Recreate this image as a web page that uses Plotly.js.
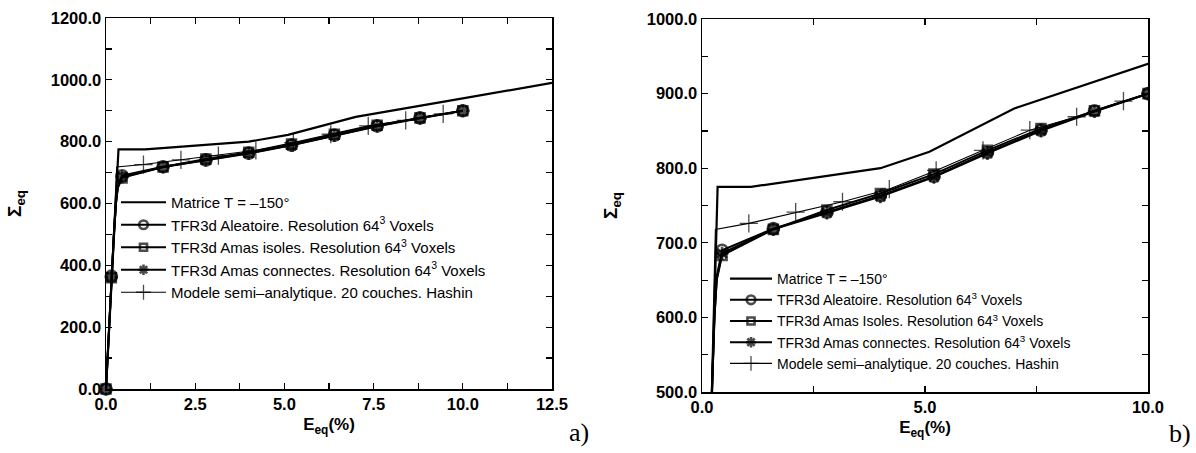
<!DOCTYPE html>
<html>
<head>
<meta charset="utf-8">
<script src="https://cdn.plot.ly/plotly-3.0.1.min.js"></script>
<style>html,body{margin:0;padding:0;background:#fff;}</style>
</head>
<body>
<div id="chart" style="width:1196px;height:453px;"></div>
<script>
// ---- data ----
const matriceE = [0, 0.35, 1.1, 4.0, 5.1, 7.0, 10.0, 12.5];
const matriceS = [0, 775, 775, 800, 822, 880, 940, 990];

const tfrE        = [0, 0.15, 0.22, 0.28, 0.33, 0.45, 1.6, 2.8, 4.0, 5.2, 6.4, 7.6, 8.8, 10.0];
const aleatoireS  = [0, 365, 500, 605, 655, 690, 719, 741, 763, 789, 821, 851, 877, 900];
const isolesS     = [0, 360, 495, 600, 650, 683, 718, 744, 766, 792, 824, 853, 877, 900];
const connectesS  = [0, 362, 497, 602, 652, 686, 718, 740, 762, 788, 820, 850, 876, 900];
const tfrMarked   = [1, 1, 0, 0, 0, 1, 1, 1, 1, 1, 1, 1, 1, 1];

const hashinE = [0, 0.3, 1.05, 2.1, 3.15, 4.2, 5.25, 6.3, 7.35, 8.4, 9.45];
const hashinS = [0, 718, 726, 741, 755, 772, 797, 824, 851, 869, 890];
const hashinMarked = [0, 0, 1, 1, 1, 1, 1, 1, 1, 1, 1];

const names = [
  'Matrice T = \u2013150\u00b0',
  'TFR3d Aleatoire. Resolution 64<sup>3</sup> Voxels',
  'TFR3d Amas isoles. Resolution 64<sup>3</sup> Voxels',
  'TFR3d Amas connectes. Resolution 64<sup>3</sup> Voxels',
  'Modele semi\u2013analytique. 20 couches. Hashin'
];
const namesB = names.slice();
namesB[2] = 'TFR3d Amas Isoles. Resolution 64<sup>3</sup> Voxels';

const leftXTicks = [0, 2.5, 5, 7.5, 10, 12.5];
const rightXTicks = [0, 5, 10];

// ---- traces ----
const traces = [];
function addSet(xa, ya, leg, clip, nm) {
  traces.push({x: matriceE, y: matriceS, xaxis: xa, yaxis: ya, legend: leg, name: nm[0],
    mode: 'lines', line: {color: '#000', width: 2.2}, cliponaxis: clip});
  const sets = [
    [aleatoireS, 'circle-open', 11],
    [isolesS, 'square-open', 9],
    [connectesS, 'asterisk-open', 11]
  ];
  sets.forEach((s, i) => {
    traces.push({x: tfrE, y: s[0], xaxis: xa, yaxis: ya, legend: leg, name: nm[i + 1],
      mode: 'lines+markers', cliponaxis: clip,
      line: {color: '#000', width: 2},
      marker: {symbol: s[1], size: tfrMarked.map(m => m ? s[2] : 0), color: '#000',
               line: {color: '#000', width: 2.6}}});
  });
  traces.push({x: hashinE, y: hashinS, xaxis: xa, yaxis: ya, legend: leg, name: nm[4],
    mode: 'lines+markers', cliponaxis: clip,
    line: {color: '#000', width: 1.1},
    marker: {symbol: 'cross-thin-open', size: hashinMarked.map(m => m ? 13 : 0), color: '#000',
             line: {color: '#000', width: 1.3}}});
}
addSet('x', 'y', 'legend', false, names);
addSet('x2', 'y2', 'legend2', true, namesB);

const F = 'Liberation Sans, Arial, Helvetica, sans-serif';
const tickFont = {family: F, size: 16.5, color: '#000', weight: 'bold'};
function ax(extra) {
  return Object.assign({
    showline: true, linewidth: 1.5, linecolor: '#000', mirror: 'ticks',
    ticks: 'inside', ticklen: 6, tickwidth: 1.2, tickcolor: '#000',
    showgrid: false, zeroline: false, tickformat: '.1f', tickfont: tickFont,
    automargin: false, fixedrange: true
  }, extra);
}
const xTitleFont = {family: F, size: 17, color: '#000', weight: 'bold'};
const yTitleFont = {family: F, size: 19, color: '#000', weight: 'bold'};

const layout = {
  width: 1196, height: 453,
  margin: {l: 0, r: 0, t: 0, b: 0},
  paper_bgcolor: '#fff', plot_bgcolor: '#fff',
  showlegend: true,
  xaxis: ax({domain: [106/1196, 552/1196], range: [0, 12.5], tickvals: leftXTicks,
    minor: {dtick: 1.25, ticks: 'inside', ticklen: 6, tickcolor: '#000', showgrid: false},
    anchor: 'y', title: {text: 'E<sub>eq</sub>(%)', font: xTitleFont, standoff: 6}}),
  yaxis: ax({domain: [64/453, 435/453], range: [0, 1200], dtick: 200,
    minor: {dtick: 100, ticks: 'inside', ticklen: 6, tickcolor: '#000', showgrid: false},
    anchor: 'x', title: {text: '\u03a3<sub>eq</sub>', font: yTitleFont, standoff: 24}}),
  xaxis2: ax({domain: [702/1196, 1148/1196], range: [0, 10], tickvals: rightXTicks,
    minor: {dtick: 2.5, ticks: 'inside', ticklen: 6, tickcolor: '#000', showgrid: false},
    anchor: 'y2', title: {text: 'E<sub>eq</sub>(%)', font: xTitleFont, standoff: 6}}),
  yaxis2: ax({domain: [61/453, 434/453], range: [500, 1000], dtick: 100,
    minor: {dtick: 50, ticks: 'inside', ticklen: 6, tickcolor: '#000', showgrid: false},
    anchor: 'x2', title: {text: '\u03a3<sub>eq</sub>', font: yTitleFont, standoff: 24}}),
  legend: {x: 116/1196, y: 1 - 186/453, xanchor: 'left', yanchor: 'top',
    bgcolor: 'rgba(0,0,0,0)', borderwidth: 0, itemwidth: 45, tracegroupgap: 0,
    font: {family: F, size: 15, color: '#000'}},
  legend2: {x: 725/1196, y: 1 - 263/453, xanchor: 'left', yanchor: 'top',
    bgcolor: 'rgba(0,0,0,0)', borderwidth: 0, itemwidth: 42, tracegroupgap: 0,
    font: {family: F, size: 14, color: '#000'}},
  annotations: [
    {text: 'a)', xref: 'paper', yref: 'paper', x: 579/1196, y: 1 - 432/453,
     xanchor: 'center', yanchor: 'middle', showarrow: false,
     font: {family: 'Liberation Serif, DejaVu Serif, serif', size: 26, color: '#000'}},
    {text: 'b)', xref: 'paper', yref: 'paper', x: 1180/1196, y: 1 - 433/453,
     xanchor: 'center', yanchor: 'middle', showarrow: false,
     font: {family: 'Liberation Serif, DejaVu Serif, serif', size: 26, color: '#000'}}
  ]
};

Plotly.newPlot('chart', traces, layout, {displayModeBar: false, staticPlot: true});
</script>
</body>
</html>
